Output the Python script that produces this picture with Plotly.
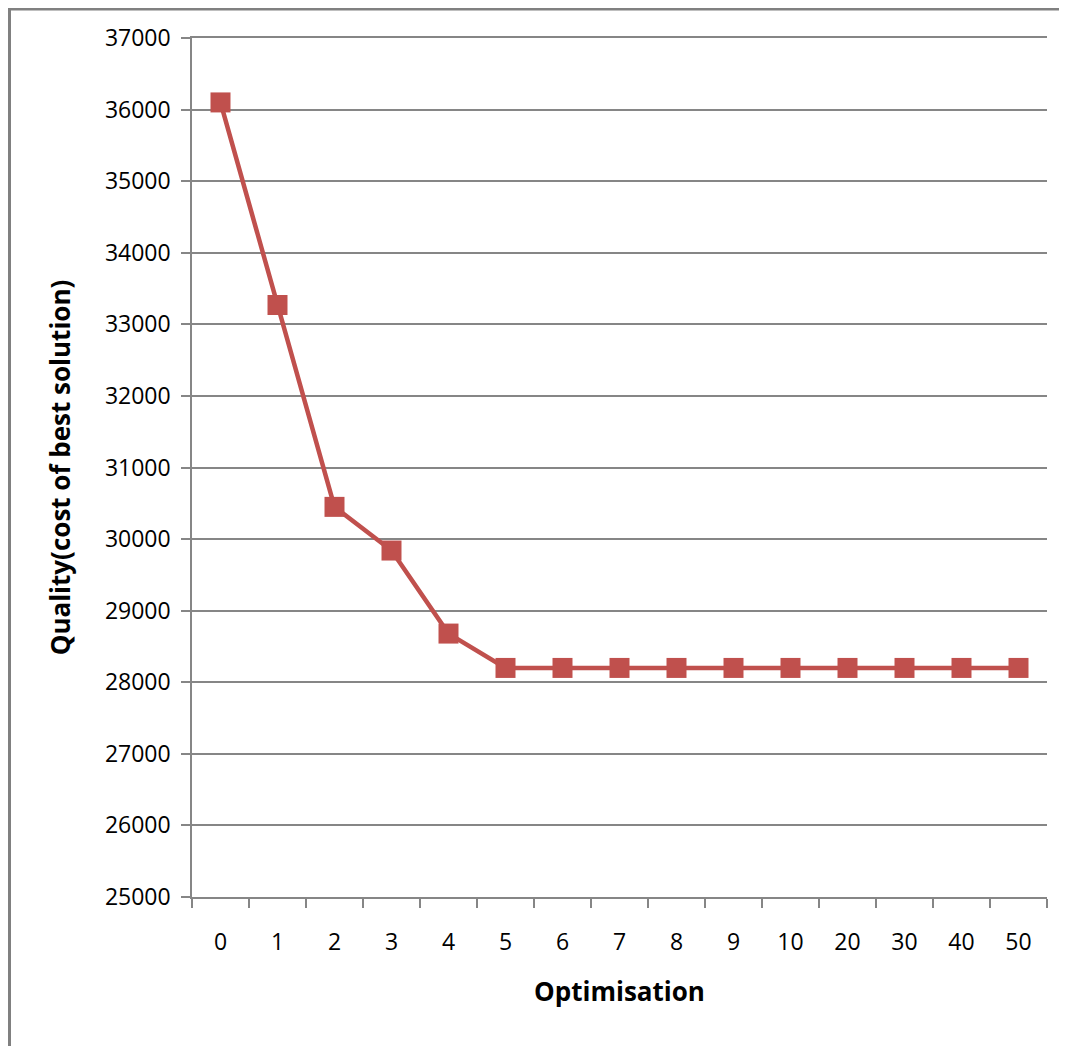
import plotly.graph_objects as go

categories = ["0", "1", "2", "3", "4", "5", "6", "7", "8", "9", "10", "20", "30", "40", "50"]
quality = [36100, 33270, 30450, 29840, 28680, 28200, 28200, 28200, 28200, 28200, 28200, 28200, 28200, 28200, 28200]
y_ticks = list(range(25000, 37001, 1000))

GRID = "#868686"
RED = "#C0504D"
FONT = "Open Sans"

# the page adds an 8px body margin, so the figure is drawn 8px smaller and offset
fig = go.Figure()
fig.add_trace(go.Scatter(
    x=categories, y=quality, mode="lines+markers",
    line=dict(color=RED, width=4.5),
    marker=dict(symbol="square", size=20, color=RED),
    showlegend=False,
))

W, H = 1059, 1038
L, R, T, B = 184, 20, 30, 149
pw, ph = W - L - R, H - T - B

fig.update_layout(
    width=W, height=H,
    margin=dict(l=L, r=R, t=T, b=B),
    paper_bgcolor="white", plot_bgcolor="white",
    font=dict(family=FONT, size=23, color="black"),
    xaxis=dict(
        type="category", tickson="boundaries", range=[-0.5, len(categories) - 0.5],
        showgrid=False, showline=True, mirror=True, linecolor=GRID, linewidth=1.5,
        ticks="outside", ticklen=9, tickcolor=GRID, tickwidth=1.5,
        ticklabelstandoff=24,
        title=dict(text="<b>Optimisation</b>", font=dict(family=FONT, size=26), standoff=26),
    ),
    yaxis=dict(
        range=[25000, 37000], tickvals=y_ticks, ticktext=[str(v) for v in y_ticks],
        showgrid=True, gridcolor=GRID, gridwidth=1.5,
        showline=True, linecolor=GRID, linewidth=1.5,
        ticks="outside", ticklen=9, tickcolor=GRID, tickwidth=1.5,
        ticklabelstandoff=6, zeroline=False,
        title=dict(text="<b>Quality(cost of best solution)</b>", font=dict(family=FONT, size=26), standoff=27),
    ),
    shapes=[dict(type="rect", xref="paper", yref="paper",
                 x0=-(L - 1.5) / pw, x1=1.2, y0=-0.3, y1=1 + (T - 1) / ph,
                 line=dict(color="#808080", width=3), layer="below")],
)

fig.write_html("out.html")
